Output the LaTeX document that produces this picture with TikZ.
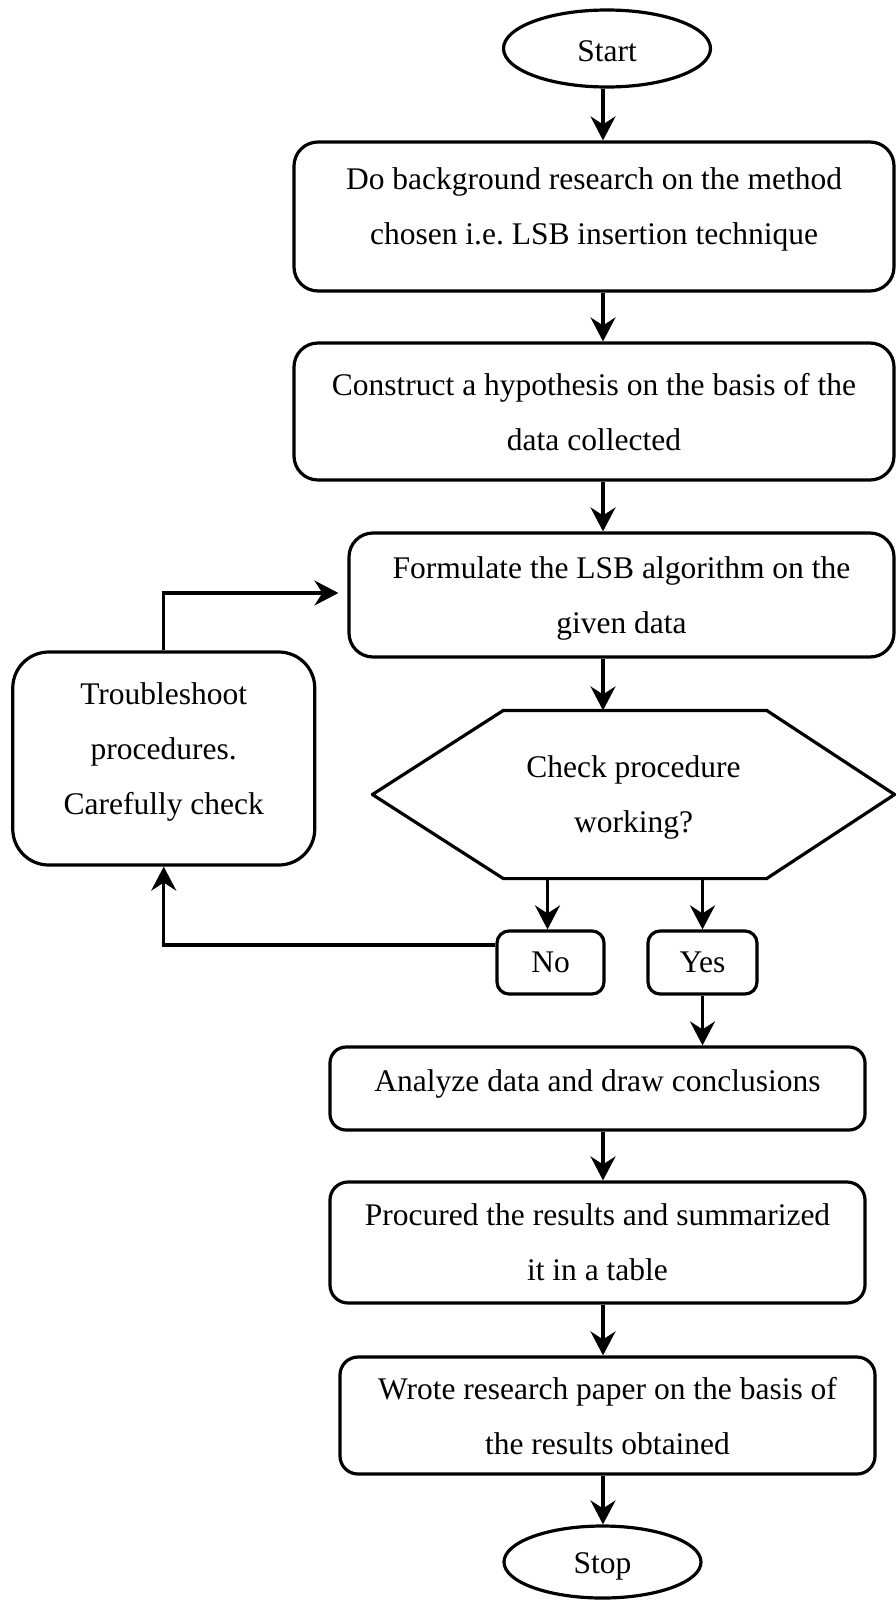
\documentclass[tikz,border=0pt]{standalone}
\usepackage{fontspec}
\setmainfont{Liberation Serif}
\usetikzlibrary{arrows.meta,shapes.geometric}
\frenchspacing
\begin{document}
\begin{tikzpicture}[x=1pt,y=-1pt,
  every node/.style={font=\fontsize{31.5}{55}\selectfont, align=center, inner sep=0pt, line width=3.2pt},
  box/.style={draw, rounded corners=24pt},
  smallbox/.style={draw, rounded corners=12pt},
  term/.style={draw, ellipse},
  arr/.style={line width=3.2pt, -{Stealth[length=24pt,width=25pt,inset=8pt]}},
  ln/.style={line width=3.2pt, line join=round}]
\useasboundingbox (0,0) rectangle (895,1600);
\coordinate (col) at (603,0);

\node[term, minimum width=207pt, minimum height=77pt, text height=27pt] (start) at (607,48.5) {Start};
\node[box, minimum width=600pt, minimum height=149pt, text depth=21pt] (research) at (594,216.5)
  {Do background research on the method\\chosen i.e. LSB insertion technique};
\node[box, minimum width=600pt, minimum height=137pt, text depth=-6pt] (hypo) at (594,411.5)
  {Construct a hypothesis on the basis of the\\data collected};
\node[box, minimum width=545pt, minimum height=124pt, text depth=-3pt] (formulate) at (621.5,595)
  {Formulate the LSB algorithm on the\\given data};
\node[box, rounded corners=36pt, minimum width=302pt, minimum height=213pt, text depth=20pt] (trouble) at (163.75,758.5)
  {Troubleshoot\\procedures.\\Carefully check};
\node[minimum width=519pt, minimum height=165pt, text depth=-1pt] (hex) at (633.5,794.5)
  {Check procedure\\working?};
\draw[ln] (hex.west) -- ([xshift=131pt]hex.north west) -- ([xshift=-128pt]hex.north east)
  -- (hex.east) -- ([xshift=-128pt]hex.south east) -- ([xshift=131pt]hex.south west) -- cycle;
\node[smallbox, minimum width=107pt, minimum height=63pt] (no) at (550.5,962.5) {No};
\node[smallbox, minimum width=109pt, minimum height=63pt] (yes) at (702.5,962.5) {Yes};
\node[box, rounded corners=16pt, minimum width=535pt, minimum height=83pt, text depth=16pt] (analyze) at (597.5,1088.5)
  {Analyze data and draw conclusions};
\node[box, rounded corners=18pt, minimum width=535pt, minimum height=121pt, text depth=-6pt] (procured) at (597.5,1242.5)
  {Procured the results and summarized\\it in a table};
\node[box, rounded corners=18pt, minimum width=535pt, minimum height=117pt, text depth=-10pt] (wrote) at (607.5,1415.5)
  {Wrote research paper on the basis of\\the results obtained};
\node[term, minimum width=197pt, minimum height=72pt, text height=30pt] (stop) at (602.5,1562) {Stop};

\draw[arr] (start.south -| col) -- (research.north -| col);
\draw[arr] (research.south -| col) -- (hypo.north -| col);
\draw[arr] (hypo.south -| col) -- (formulate.north -| col);
\draw[arr] (formulate.south -| col) -- (hex.north -| col);
\draw[arr] ([xshift=-3pt]hex.south -| no.north) -- ([xshift=-3pt]no.north);
\draw[arr] (hex.south -| yes.north) -- (yes.north);
\draw[arr] (yes.south) -- (analyze.north -| yes.south);
\draw[arr] (analyze.south -| col) -- (procured.north -| col);
\draw[arr] (procured.south -| col) -- (wrote.north -| col);
\draw[arr] (wrote.south -| col) -- (stop.north -| col);
\draw[arr, shorten >=9pt] (trouble.north) |- ([yshift=2pt]formulate.west);
\draw[arr, line join=miter] ([yshift=17.5pt]no.west) -| (trouble.south);
\end{tikzpicture}
\end{document}
